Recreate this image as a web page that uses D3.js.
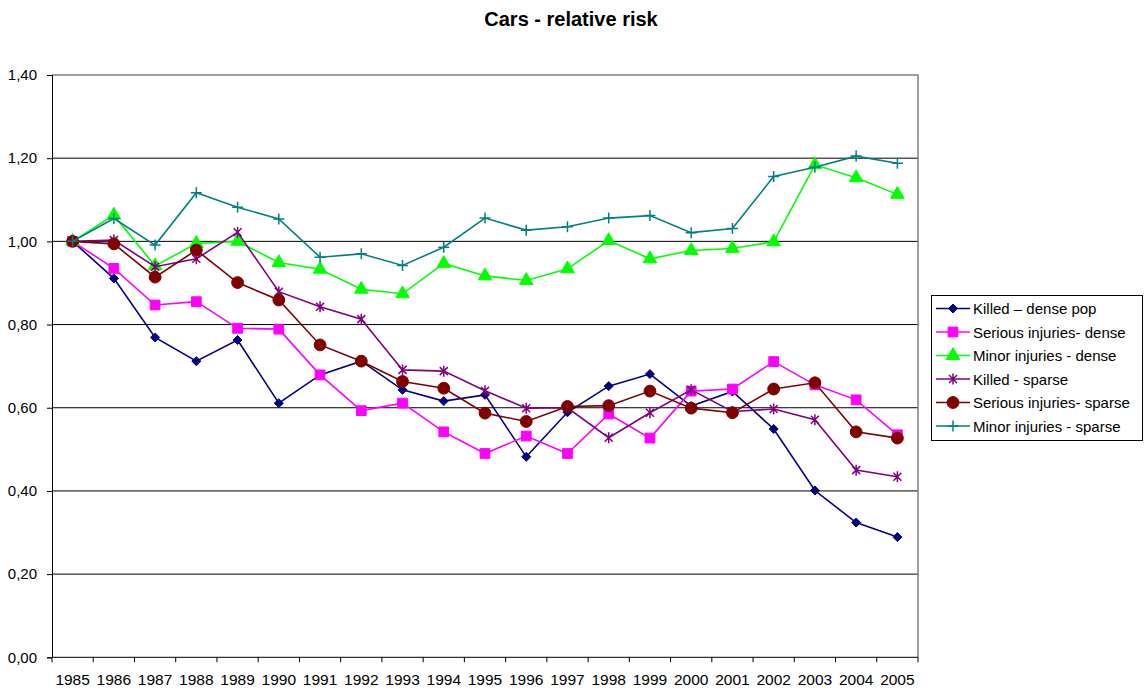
<!DOCTYPE html>
<html>
<head>
<meta charset="utf-8">
<script src="https://cdn.jsdelivr.net/npm/d3@7"></script>
<style>
  body { margin: 0; background: #fff; }
  svg { font-family: "Liberation Sans", Arial, sans-serif; }
</style>
</head>
<body>
<svg id="chart"></svg>
<script>
var years = ["1985","1986","1987","1988","1989","1990","1991","1992","1993","1994","1995",
             "1996","1997","1998","1999","2000","2001","2002","2003","2004","2005"];

var killedDense   = [1.00, 0.911, 0.769, 0.712, 0.763, 0.611, 0.679, 0.712, 0.643, 0.616, 0.631, 0.482, 0.589, 0.652, 0.681, 0.604, 0.639, 0.549, 0.401, 0.324, 0.289];
var seriousDense  = [1.00, 0.935, 0.847, 0.855, 0.791, 0.789, 0.679, 0.593, 0.611, 0.542, 0.490, 0.532, 0.490, 0.585, 0.527, 0.640, 0.645, 0.711, 0.655, 0.619, 0.535];
var minorDense    = [1.00, 1.063, 0.941, 0.995, 1.000, 0.949, 0.933, 0.885, 0.874, 0.947, 0.917, 0.906, 0.934, 1.002, 0.958, 0.978, 0.983, 0.999, 1.184, 1.153, 1.113];
var killedSparse  = [1.00, 1.003, 0.939, 0.958, 1.022, 0.879, 0.843, 0.813, 0.691, 0.688, 0.641, 0.599, 0.600, 0.528, 0.588, 0.643, 0.591, 0.597, 0.571, 0.450, 0.434];
var seriousSparse = [1.00, 0.994, 0.914, 0.979, 0.901, 0.859, 0.751, 0.712, 0.663, 0.647, 0.587, 0.567, 0.603, 0.605, 0.640, 0.599, 0.588, 0.645, 0.660, 0.542, 0.527];
var minorSparse   = [1.00, 1.055, 0.991, 1.117, 1.082, 1.054, 0.962, 0.970, 0.942, 0.986, 1.056, 1.027, 1.035, 1.056, 1.062, 1.021, 1.031, 1.156, 1.178, 1.205, 1.188];

var seriesNames = ["Killed \u2013 dense pop", "Serious injuries- dense", "Minor injuries - dense",
                   "Killed - sparse", "Serious injuries- sparse", "Minor injuries - sparse"];
var yTicks = [0, 0.2, 0.4, 0.6, 0.8, 1.0, 1.2, 1.4];

var width = 1146, height = 691;
var plotLeft = 52, plotRight = 918, plotTop = 75, plotBottom = 657.3;

var svg = d3.select("#chart").attr("width", width).attr("height", height);

var x = d3.scaleBand().domain(years).range([plotLeft, plotRight]);
var y = d3.scaleLinear().domain([0, 1.4]).range([plotBottom, plotTop]);
var cx = function (yr) { return x(yr) + x.bandwidth() / 2; };

// marker shapes
var symbols = {
  square: d3.symbol().type(d3.symbolSquare).size(95),
  triangle: d3.symbol().type(d3.symbolTriangle).size(80),
  circle: d3.symbol().type(d3.symbolCircle).size(110)
};
function markerPath(kind) {
  if (kind == "diamond") return "M0,-4.5L4.5,0L0,4.5L-4.5,0Z";
  if (kind == "star") return "M-4,-4L4,4M-4,4L4,-4M0,-5.5L0,5.5";
  if (kind == "plus") return "M-5.5,0H5.5M0,-5.5V5.5";
  return symbols[kind]();
}

var series = [
  { name: seriesNames[0], values: killedDense,   color: "#000080", marker: "diamond" },
  { name: seriesNames[1], values: seriousDense,  color: "#FF00FF", marker: "square" },
  { name: seriesNames[2], values: minorDense,    color: "#00FF00", marker: "triangle" },
  { name: seriesNames[3], values: killedSparse,  color: "#800080", marker: "star" },
  { name: seriesNames[4], values: seriousSparse, color: "#800000", marker: "circle" },
  { name: seriesNames[5], values: minorSparse,   color: "#008080", marker: "plus" }
];

// gridlines
svg.append("g").selectAll("line")
  .data(yTicks.filter(function (d) { return d > 0 && d < 1.4; }))
  .enter().append("line")
  .attr("x1", plotLeft).attr("x2", plotRight)
  .attr("y1", function (d) { return y(d); }).attr("y2", function (d) { return y(d); })
  .attr("stroke", "#000").attr("stroke-width", 1);

// plot border top/right
svg.append("path")
  .attr("d", "M" + plotLeft + "," + y(1.4) + "H" + plotRight + "V" + plotBottom)
  .attr("fill", "none").attr("stroke", "#808080").attr("stroke-width", 1.5);

// y axis
var yAxis = svg.append("g").attr("transform", "translate(" + plotLeft + ",0)")
  .call(d3.axisLeft(y).tickValues(yTicks).tickSize(5).tickPadding(10)
    .tickFormat(function (d) { return d3.format(".2f")(d).replace(".", ","); }));
yAxis.select(".domain").attr("stroke", "#000");
yAxis.selectAll("text").attr("font-size", 15).attr("font-family", "Liberation Sans, Arial").attr("fill", "#000");

// x axis: ticks between categories
svg.append("line").attr("x1", plotLeft).attr("x2", plotRight).attr("y1", plotBottom).attr("y2", plotBottom)
  .attr("stroke", "#000").attr("stroke-width", 1);
svg.append("g").selectAll("line")
  .data(years.concat(["end"]))
  .enter().append("line")
  .attr("x1", function (d) { return d == "end" ? plotRight : x(d); })
  .attr("x2", function (d) { return d == "end" ? plotRight : x(d); })
  .attr("y1", plotBottom).attr("y2", plotBottom + 5)
  .attr("stroke", "#000");
svg.append("g").selectAll("text")
  .data(years)
  .enter().append("text")
  .attr("x", cx).attr("y", 685)
  .attr("text-anchor", "middle")
  .attr("font-size", 15.5)
  .text(function (d) { return d; });

// series
var line = d3.line()
  .x(function (d, i) { return cx(years[i]); })
  .y(function (d) { return y(d); });

series.forEach(function (s) {
  var g = svg.append("g");
  g.append("path").datum(s.values)
    .attr("d", line).attr("fill", "none")
    .attr("stroke", s.color).attr("stroke-width", 1.6);
  g.selectAll(".m").data(s.values).enter().append("path")
    .attr("transform", function (d, i) { return "translate(" + cx(years[i]) + "," + y(d) + ")"; })
    .attr("d", markerPath(s.marker))
    .attr("fill", (s.marker == "star" || s.marker == "plus") ? "none" : s.color)
    .attr("stroke", s.color)
    .attr("stroke-width", (s.marker == "star" || s.marker == "plus") ? 1.5 : 1);
});

// title
svg.append("text").attr("x", 571).attr("y", 26)
  .attr("text-anchor", "middle").attr("font-size", 20).attr("font-weight", "bold")
  .text("Cars - relative risk");

// legend
var lg = svg.append("g");
lg.append("rect").attr("x", 931.5).attr("y", 295.5).attr("width", 211).attr("height", 145)
  .attr("fill", "#fff").attr("stroke", "#000");
series.forEach(function (s, i) {
  var ly = 308.5 + i * 23.5;
  lg.append("line").attr("x1", 936).attr("x2", 970).attr("y1", ly).attr("y2", ly)
    .attr("stroke", s.color).attr("stroke-width", 1.6);
  lg.append("path").attr("transform", "translate(953," + ly + ")")
    .attr("d", markerPath(s.marker))
    .attr("fill", (s.marker == "star" || s.marker == "plus") ? "none" : s.color)
    .attr("stroke", s.color)
    .attr("stroke-width", (s.marker == "star" || s.marker == "plus") ? 1.5 : 1);
  lg.append("text").attr("x", 973).attr("y", ly + 5.5)
    .attr("font-size", 15).text(s.name);
});
</script>
</body>
</html>
